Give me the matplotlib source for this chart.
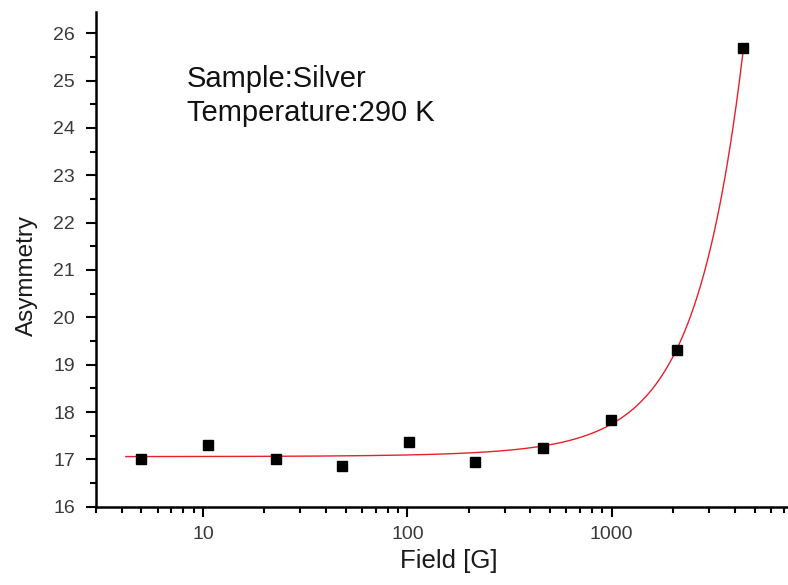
import matplotlib
matplotlib.use("Agg")
import matplotlib.pyplot as plt
from matplotlib.ticker import FixedLocator, LogLocator, NullFormatter, FuncFormatter
import numpy as np

plt.rcParams['font.family'] = ['Liberation Sans', 'DejaVu Sans']

# data
field = [5.0, 10.6, 22.7, 48, 102, 215, 462, 990, 2090, 4410]
asym = [17.01, 17.30, 17.00, 16.86, 17.36, 16.94, 17.24, 17.83, 19.32, 25.69]
sample_lines = ["Sample:Silver", "Temperature:290 K"]

# quadratic fit through the measured points (the red line)
coef = np.polyfit(field, asym, 2)
xf = np.linspace(4.2, field[-1], 2000)
yf = np.polyval(coef, xf)

W, H = 788, 585
fig = plt.figure(figsize=(W / 100, H / 100), dpi=100)
ax = fig.add_axes([96 / W, 1 - 506.7 / H, (787 - 96) / W, (506.7 - 11.7) / H])

ax.plot(xf, yf, color='#e8202a', lw=1.0, zorder=2)
ax.plot(field, asym, ls='none', marker='s', ms=7, color='black', zorder=3)

ax.set_xscale('log')
ax.set_xlim(3, 7200)
ax.set_ylim(16, 26.456)

ax.xaxis.set_major_locator(FixedLocator([10, 100, 1000]))
ax.xaxis.set_major_formatter(FuncFormatter(lambda v, p: f"{v:g}"))
ax.xaxis.set_minor_locator(LogLocator(base=10, subs=np.arange(2, 10), numticks=20))
ax.xaxis.set_minor_formatter(NullFormatter())
ax.set_yticks(np.arange(16, 27, 1))
ax.set_yticks(np.arange(16.5, 26.5, 1), minor=True)

for s in ['top', 'right']:
    ax.spines[s].set_visible(False)
for s in ['left', 'bottom']:
    ax.spines[s].set_linewidth(1.8)

ax.tick_params(which='major', direction='out', length=7, width=1.5,
               labelsize=14, labelcolor='#3a3a3a')
ax.tick_params(axis='y', which='major', pad=8)
ax.tick_params(axis='x', which='major', pad=7)
ax.tick_params(which='minor', direction='out', length=4, width=1.5)

# axis titles
fig.text(27 / W, 1 - 275 / H, "Asymmetry", fontsize=17.5, rotation=90,
         ha='center', va='center', color='#1a1a1a')
fig.text(449 / W, 1 - 561 / H, "Field [G]", fontsize=18.5,
         ha='center', va='center', color='#1a1a1a')

fig.text(187 / W, 1 - 87 / H, sample_lines[0], fontsize=21, va='baseline', ha='left', color='#111111')
fig.text(187 / W, 1 - 121 / H, sample_lines[1], fontsize=21, va='baseline', ha='left', color='#111111')

fig.savefig("out.png", dpi=100)
